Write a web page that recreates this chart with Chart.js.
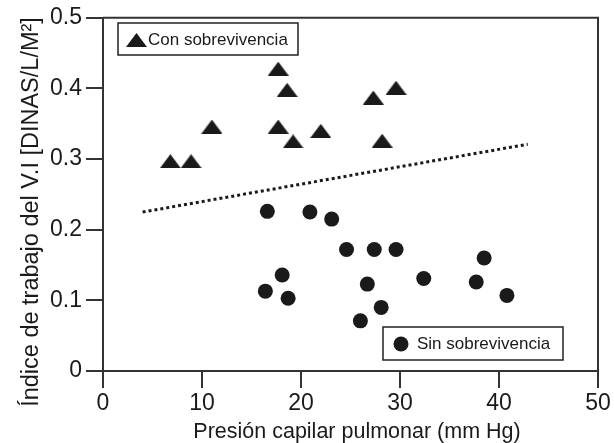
<!DOCTYPE html>
<html>
<head>
<meta charset="utf-8">
<script src="https://cdn.jsdelivr.net/npm/chart.js@4"></script>
<style>
  body { margin: 0; background: #fff; }
  #wrap { width: 614px; height: 443px; }
</style>
</head>
<body>
<div id="wrap"><canvas id="chart" width="614" height="443"></canvas></div>
<script>
// datos
const conX = [6.8, 8.9, 11.0, 17.7, 18.6, 17.7, 19.2, 22.0, 27.3, 29.6, 28.2];
const conY = [0.297, 0.297, 0.346, 0.428, 0.398, 0.346, 0.325, 0.340, 0.387, 0.401, 0.326];
const sinX = [16.6, 20.9, 23.1, 18.1, 16.4, 18.7, 24.6, 27.4, 29.6, 26.7, 32.4, 38.5, 37.7, 40.8, 28.1, 26.0];
const sinY = [0.226, 0.225, 0.215, 0.136, 0.113, 0.103, 0.172, 0.172, 0.172, 0.123, 0.131, 0.160, 0.126, 0.107, 0.090, 0.071];
const trendX = [4.0, 42.9];
const trendY = [0.225, 0.321];

const xTitle = "Presión capilar pulmonar (mm Hg)";
const yTitle = "Índice de trabajo del V.I [DINAS/L/M²]";
const conLabel = "Con sobrevivencia";
const sinLabel = "Sin sobrevivencia";

const FONT = "'Liberation Sans', Arial, sans-serif";
const INK = "#1a1a1a";

function toPoints(xs, ys) {
    return xs.map((x, i) => ({ x: x, y: ys[i] }));
}

// triángulo algo aplanado como en la figura
function makeTriangle(w, h) {
    const c = document.createElement("canvas");
    c.width = w;
    c.height = h;
    const g = c.getContext("2d");
    g.fillStyle = INK;
    g.beginPath();
    g.moveTo(w / 2, 0);
    g.lineTo(w, h);
    g.lineTo(0, h);
    g.closePath();
    g.fill();
    return c;
}
const triangleImg = makeTriangle(21, 14);

// marco, títulos de ejes y leyendas
const extras = {
    id: "extras",
    afterDraw(chart) {
        const ctx = chart.ctx;
        const a = chart.chartArea;
        ctx.save();
        ctx.strokeStyle = "#333";
        ctx.lineWidth = 2;
        ctx.beginPath();
        ctx.moveTo(a.left, a.top);
        ctx.lineTo(a.right, a.top);
        ctx.lineTo(a.right, a.bottom);
        ctx.stroke();

        ctx.fillStyle = INK;
        ctx.font = "21.5px " + FONT;
        ctx.textAlign = "center";
        ctx.textBaseline = "alphabetic";
        ctx.fillText(xTitle, 357, 438);

        ctx.save();
        ctx.font = "23.5px " + FONT;
        ctx.translate(38, 212);
        ctx.rotate(-Math.PI / 2);
        ctx.fillText(yTitle, 0, 0);
        ctx.restore();

        // leyenda con sobrevivencia
        ctx.lineWidth = 1.5;
        ctx.strokeStyle = "#222";
        ctx.strokeRect(118, 23, 180, 32);
        ctx.drawImage(triangleImg, 126, 33);
        ctx.fillStyle = INK;
        ctx.font = "17px " + FONT;
        ctx.textAlign = "left";
        ctx.textBaseline = "middle";
        ctx.fillText(conLabel, 148, 40);

        // leyenda sin sobrevivencia
        ctx.strokeRect(383, 327, 180, 33);
        ctx.beginPath();
        ctx.arc(401, 344, 7.5, 0, Math.PI * 2);
        ctx.fill();
        ctx.fillText(sinLabel, 417, 344);
        ctx.restore();
    }
};

new Chart(document.getElementById("chart"), {
    type: "scatter",
    data: {
        datasets: [
            {
                label: conLabel,
                data: toPoints(conX, conY),
                pointStyle: triangleImg,
                pointRadius: 10,
                backgroundColor: INK,
                borderColor: INK,
                borderWidth: 0,
            },
            {
                label: sinLabel,
                data: toPoints(sinX, sinY),
                pointStyle: "circle",
                pointRadius: 7.5,
                backgroundColor: INK,
                borderColor: INK,
                borderWidth: 0,
            },
            {
                label: "tendencia",
                type: "line",
                data: toPoints(trendX, trendY),
                showLine: true,
                borderColor: INK,
                borderWidth: 3,
                borderDash: [3, 3],
                pointRadius: 0,
                fill: false,
            },
        ],
    },
    options: {
        responsive: false,
        animation: false,
        layout: { padding: { top: 17, right: 16, left: 0, bottom: 0 } },
        plugins: {
            legend: { display: false },
            tooltip: { enabled: false },
        },
        scales: {
            x: {
                type: "linear",
                min: 0,
                max: 50,
                afterFit: (s) => { s.height = 72; },
                ticks: {
                    stepSize: 10,
                    color: INK,
                    padding: 2,
                    font: { family: FONT, size: 23 },
                },
                grid: {
                    drawOnChartArea: false,
                    tickLength: 17,
                    color: "#333",
                    lineWidth: 2,
                },
                border: { color: "#333", width: 2 },
            },
            y: {
                min: 0,
                max: 0.5,
                afterFit: (s) => { s.width = 103; },
                ticks: {
                    stepSize: 0.1,
                    color: INK,
                    padding: 4,
                    font: { family: FONT, size: 23 },
                    callback: (v) => (v === 0 ? "0" : v.toFixed(1)),
                },
                grid: {
                    drawOnChartArea: false,
                    tickLength: 17,
                    color: "#333",
                    lineWidth: 2,
                },
                border: { color: "#333", width: 2 },
            },
        },
    },
    plugins: [extras],
});
</script>
</body>
</html>
